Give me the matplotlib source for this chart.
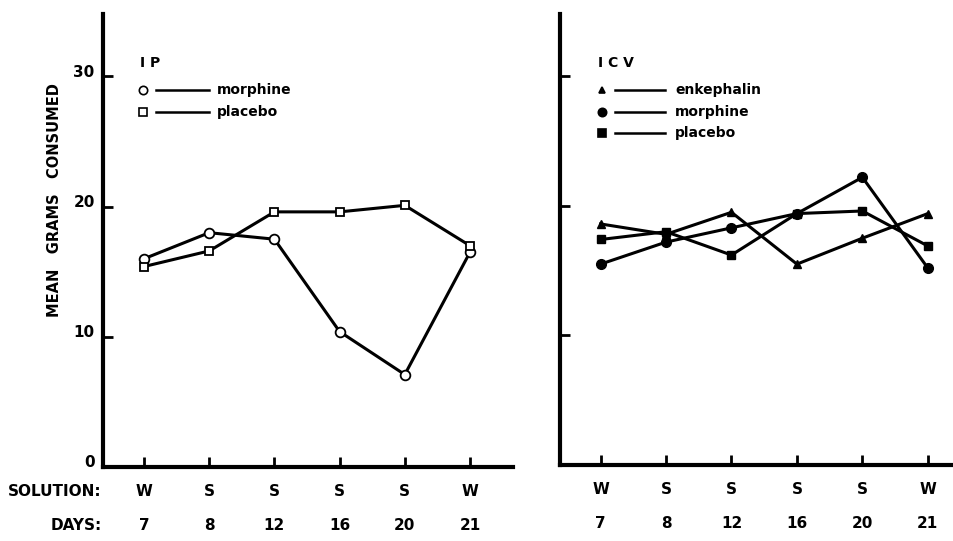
import matplotlib
matplotlib.use("Agg")
import matplotlib.pyplot as plt
import matplotlib.transforms as mtransforms
from matplotlib.lines import Line2D

# data
solution = ["W", "S", "S", "S", "S", "W"]
days = ["7", "8", "12", "16", "20", "21"]

ip_morphine = [16.0, 18.0, 17.5, 10.4, 7.1, 16.5]
ip_placebo = [15.4, 16.6, 19.6, 19.6, 20.1, 17.0]

icv_enkephalin = [18.6, 17.8, 19.5, 15.5, 17.5, 19.4]
icv_morphine = [15.5, 17.2, 18.3, 19.4, 22.2, 15.2]
icv_placebo = [17.4, 18.0, 16.2, 19.4, 19.6, 16.9]

plt.rcParams['font.family'] = ['DejaVu Sans']
plt.rcParams['font.weight'] = 'bold'

W, H = 954, 541
fig = plt.figure(figsize=(W / 100, H / 100), dpi=100)

ax1 = fig.add_axes([103 / W, 1 - 467 / H, (513 - 103) / W, (467 - 14) / H])
ax2 = fig.add_axes([560 / W, 1 - 465 / H, (954 - 560) / W, (465 - 14) / H])

x = list(range(len(days)))
lw = 2.2


def style_axes(ax, xlim, show_labels):
    for s in ['top', 'right']:
        ax.spines[s].set_visible(False)
    for s in ['left', 'bottom']:
        ax.spines[s].set_linewidth(3)
    ax.set_xlim(*xlim)
    ax.set_ylim(0, 34.8)
    ax.set_xticks(x)
    ax.set_xticklabels([])
    ax.set_yticks([10, 20, 30])
    ax.tick_params(axis='both', direction='in', length=7, width=2, pad=6,
                   labelsize=11)
    if show_labels:
        ax.set_yticks([0, 10, 20, 30])
        ax.set_yticklabels(['0', '10', '20', '30'], fontweight='bold')
        offset = mtransforms.ScaledTranslation(0, 4 / 72, fig.dpi_scale_trans)
        for lab in ax.get_yticklabels():
            lab.set_transform(lab.get_transform() + offset)
    else:
        ax.set_yticklabels([])
    for i in x:
        ax.annotate(solution[i], xy=(i, 0), xycoords=('data', 'axes fraction'),
                    xytext=(0, -18), textcoords='offset points',
                    ha='center', va='center', fontsize=11, fontweight='bold')
        ax.annotate(days[i], xy=(i, 0), xycoords=('data', 'axes fraction'),
                    xytext=(0, -42), textcoords='offset points',
                    ha='center', va='center', fontsize=11, fontweight='bold')


style_axes(ax1, (-0.63, 5.66), True)
style_axes(ax2, (-0.62, 5.40), False)

# left panel: IP
ax1.plot(x, ip_morphine, color='black', lw=lw, marker='o', ms=7,
         mfc='white', mec='black', mew=1.3, zorder=3)
ax1.plot(x, ip_placebo, color='black', lw=lw, marker='s', ms=6,
         mfc='white', mec='black', mew=1.3, zorder=3)

# right panel: ICV
ax2.plot(x, icv_enkephalin, color='black', lw=lw, marker='^', ms=6,
         mfc='black', mec='black', zorder=3)
ax2.plot(x, icv_morphine, color='black', lw=lw, marker='o', ms=7,
         mfc='black', mec='black', zorder=3)
ax2.plot(x, icv_placebo, color='black', lw=lw, marker='s', ms=6,
         mfc='black', mec='black', zorder=3)


# hand-drawn style legends (marker, gap, line, label)
def legend_block(title, title_x, entries, mx, l0, l1, tx, y0):
    fig.text(title_x / W, 1 - 63 / H, title, fontsize=10, fontweight='bold',
             va='center', ha='left')
    for k, (marker, mfc, label) in enumerate(entries):
        yy = 1 - (y0 + k * 21.5) / H
        fig.add_artist(Line2D([mx / W], [yy], marker=marker, ms=6 if marker != '^' else 5,
                              mfc=mfc, mec='black', mew=1.2, ls='none'))
        fig.add_artist(Line2D([l0 / W, l1 / W], [yy, yy], color='black', lw=1.8))
        fig.text(tx / W, yy, label, fontsize=10, fontweight='bold',
                 va='center', ha='left')


legend_block("I P", 140, [('o', 'white', 'morphine'), ('s', 'white', 'placebo')],
             143, 156, 209, 217, 90)
legend_block("I C V", 598, [('^', 'black', 'enkephalin'), ('o', 'black', 'morphine'),
                            ('s', 'black', 'placebo')],
             602, 615, 665, 675, 90)

fig.text(55 / W, 1 - 200 / H, "MEAN   GRAMS   CONSUMED", rotation=90,
         fontsize=10.5, fontweight='bold', ha='center', va='center')
fig.text(102 / W, 1 - 492 / H, "SOLUTION:", fontsize=11, fontweight='bold',
         ha='right', va='center')
fig.text(102 / W, 1 - 525 / H, "DAYS:", fontsize=11, fontweight='bold',
         ha='right', va='center')

fig.savefig("out.png", dpi=100)
